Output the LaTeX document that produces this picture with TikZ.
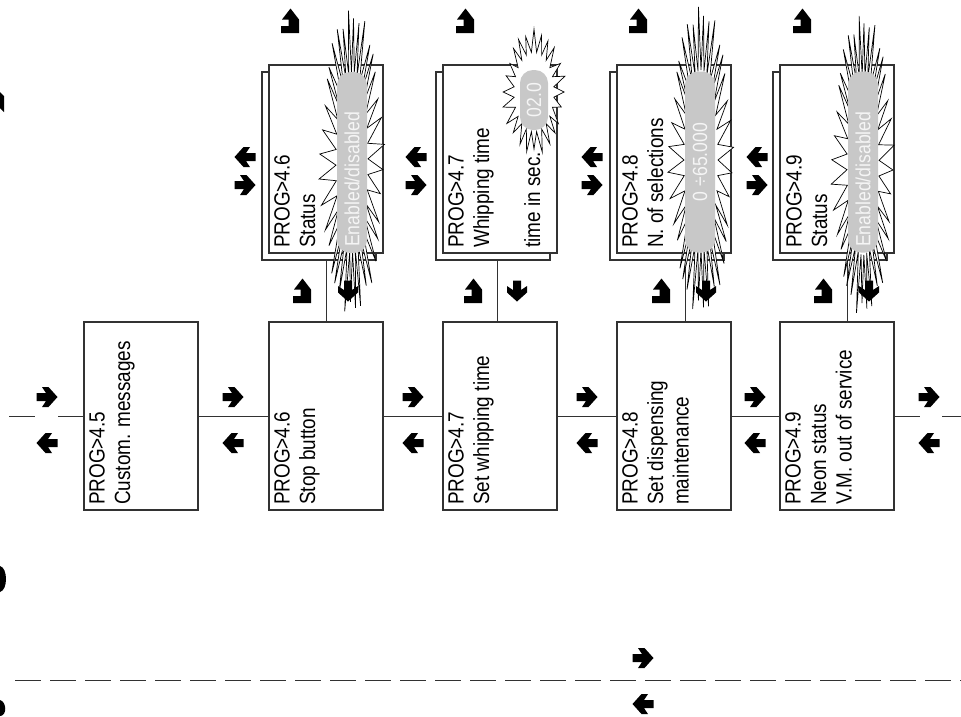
\documentclass[tikz,border=0pt]{standalone}
\usepackage{fontspec}
\newfontfamily\nar[FakeStretch=0.86]{Liberation Sans}
\definecolor{pillg}{RGB}{200,200,200}
\definecolor{boxc}{RGB}{50,50,50}
\newcommand\burst[8]{%
  \draw[line width=0.7pt, fill=white] plot[variable=\k, samples at={0,...,#7}]
   ({#1+(mod(\k,2)==0 ? #3*(1+0.07*sin(\k*151)) : #5)*cos(\k*(360/(#7+1))+#8)},
    {#2+(mod(\k,2)==0 ? #4*(1+0.05*sin(\k*113)) : #6)*sin(\k*(360/(#7+1))+#8)}) -- cycle;}
\begin{document}
\begin{tikzpicture}[x=1pt,y=-1pt,
  box/.style={draw=boxc, line width=1.1pt, fill=white, rectangle, inner sep=0pt,
              minimum width=114pt, minimum height=188pt},
  txt/.style={rotate=90, anchor=north west, align=left, inner sep=0pt,
              font=\nar\fontsize{22}{25.5}\selectfont},
  pill/.style={fill=pillg, rectangle, rounded corners=13pt, inner sep=0pt, minimum width=30pt},
  ptxt/.style={rotate=90, inner sep=0pt, text={rgb,255:red,245;green,245;blue,245},
              font=\nar\fontsize{20.5}{24}\selectfont},
  conn/.style={line width=0.9pt, draw=boxc},
  harr/.pic={\fill (-10.5,-4) -- (-1,-4) -- (-5,-10) -- (1.5,-10) -- (10.5,0) -- (1.5,10) -- (-5,10) -- (-1,4) -- (-10.5,4) -- cycle;},
  uarr/.pic={\fill (0.5,-12.5) -- (9,-1.5) -- (9,12) -- (-9,12) -- (-9,5) -- (-1.5,5) -- (-1.5,-1.5) -- (-8,-1.5) -- cycle;}
]
\useasboundingbox (0,0) rectangle (961,716);
\fill[white] (0,0) rectangle (961,716);

% bottom row boxes
\node[box] (b45) at (141,416) {};
\node[box] (b46) at (326,416) {};
\node[box] (b47) at (500,416) {};
\node[box] (b48) at (674,416) {};
\node[box] (b49) at (837,416) {};

% top row: shadow boxes and front boxes
\node[box] (t46s) at (319,166) {};
\node[box] (t47s) at (493,166) {};
\node[box] (t48s) at (667,166) {};
\node[box] (t49s) at (830,166) {};
\node[box] (t46) at (326,159) {};
\node[box] (t47) at (500,159) {};
\node[box] (t48) at (674,159) {};
\node[box] (t49) at (837,159) {};

% connectors
\coordinate (l1) at (9,416); \coordinate (l2) at (35,416); \coordinate (l3) at (58,416);
\coordinate (r1) at (920,416); \coordinate (r2) at (942,416); \coordinate (r3) at (961,416);
\draw[conn] (l1) -- (l2);
\draw[conn] (l3) -- (b45.west);
\draw[conn] (b45.east) -- (b46.west);
\draw[conn] (b46.east) -- (b47.west);
\draw[conn] (b47.east) -- (b48.west);
\draw[conn] (b48.east) -- (b49.west);
\draw[conn] (b49.east) -- (r1);
\draw[conn] (r2) -- (r3);
\draw[conn] (b46.north) -- (b46.north |- t46s.south);
\draw[conn] ([xshift=-3pt]b47.north) -- ([xshift=-3pt]b47.north |- t47s.south);
\draw[conn] ([xshift=11pt]b48.north) -- ([xshift=11pt]b48.north |- t48s.south);
\draw[conn] ([xshift=10pt]b49.north) -- ([xshift=10pt]b49.north |- t49s.south);

% dashed line
\coordinate (d1) at (15,680); \coordinate (d2) at (961,680);
\draw[conn, dash pattern=on 26pt off 9pt] (d1) -- (d2);

% texts bottom
\node[txt] (x45) at (89,505) {PROG>4.5\\Custom. messages};
\node[txt] (x46) at (274,505) {PROG>4.6\\Stop button};
\node[txt] (x47) at (448,505) {PROG>4.7\\Set whipping time};
\node[txt] (x48) at (622,505) {PROG>4.8\\Set dispensing\\maintenance};
\node[txt] (x49) at (785,505) {PROG>4.9\\Neon status\\V.M. out of service};
% texts top
\node[txt] (y46) at (274,248) {PROG>4.6\\Status};
\node[txt] (y47) at (448,248) {PROG>4.7\\Whipping time};
\node[txt, anchor=base west] (y47b) at (540,248) {time in sec.};
\node[txt] (y48) at (622,248) {PROG>4.8\\N. of selections};
\node[txt] (y49) at (786,248) {PROG>4.9\\Status};

% starbursts
\burst{352}{162}{31}{146}{16}{90}{71}{3}
\burst{534}{92}{30}{60}{20}{40}{47}{0}
\burst{701}{160}{31}{147}{17}{90}{71}{5}
\burst{863}{165}{30}{144}{16}{90}{71}{2}

% pills
\node[pill, minimum height=181pt] (p46) at (352,162.5) {};
\node[pill, minimum height=60pt, minimum width=28pt] (p47) at (534,100) {};
\node[pill, minimum height=181pt] (p48) at (700,162) {};
\node[pill, minimum height=181pt] (p49) at (863,162) {};
\node[ptxt, anchor=west] (q46) at (352,247) {Enabled/disabled};
\node[ptxt] (q47) at (534,100) {02.0};
\node[ptxt] (q48) at (700,162) {0 ÷65.000};
\node[ptxt, anchor=west] (q49) at (863,247) {Enabled/disabled};

% arrows: top up arrows
\foreach \x in {290,465,638,802} \pic at (\x,21) {uarr};
% lower up arrows and down arrows
\foreach \x in {302,473,661,823} \pic at (\x,291) {uarr};
\foreach \x in {348,517,706,869} \pic[rotate=-90] at (\x,291) {harr};
% side arrows of top boxes
\foreach \x in {245,416,592,757} {
  \pic[rotate=180] at (\x,157) {harr};
  \pic at (\x,185) {harr};
}
% bottom row arrows
\foreach \x in {47,233,413,587,755,929} {
  \pic at (\x,397) {harr};
  \pic[rotate=180] at (\x,443) {harr};
}
% dashed line arrows
\pic at (643,658) {harr};
\pic[rotate=180] at (643,704) {harr};

% clipped marks at left edge
\fill (0,92) -- (4,96) -- (4,112) -- (0,108) -- cycle;
\fill (0,566) .. controls (8,568) and (8,590) .. (0,592) -- cycle;
\fill (0,700) .. controls (7,702) and (7,716) .. (0,716) -- cycle;
\end{tikzpicture}
\end{document}
